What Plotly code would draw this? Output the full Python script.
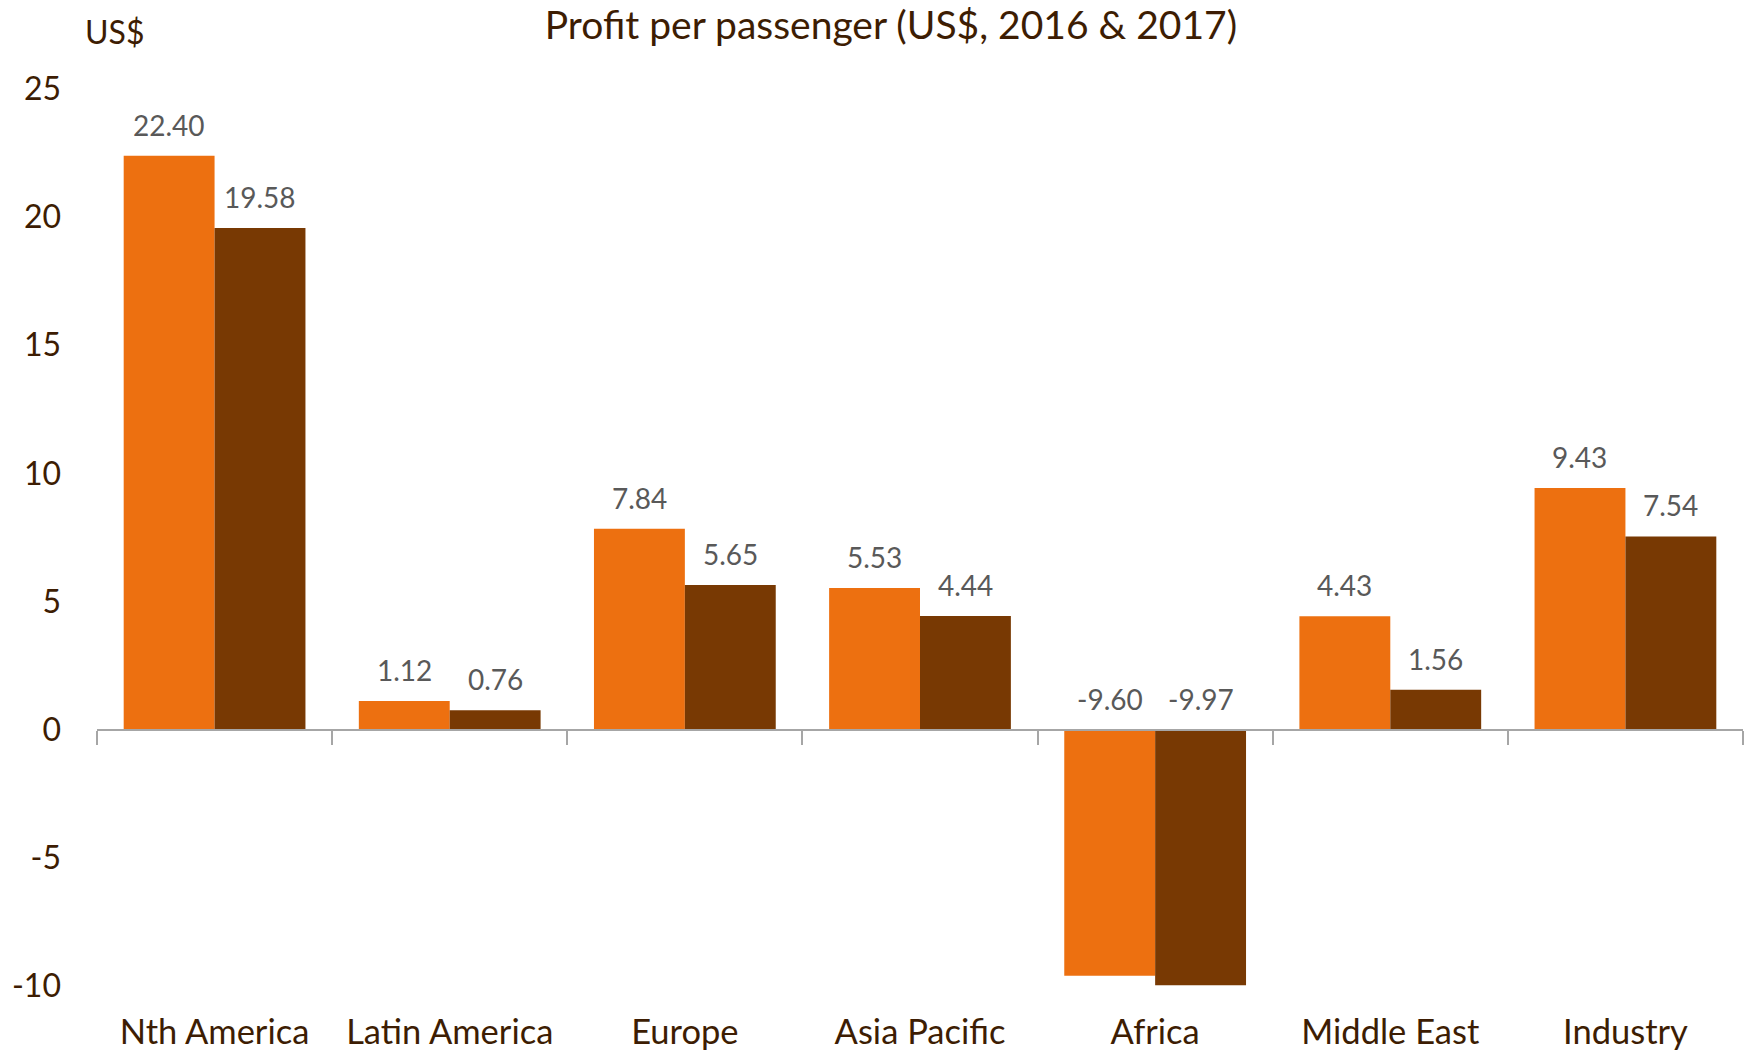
import plotly.graph_objects as go

categories = ["Nth America", "Latin America", "Europe", "Asia Pacific", "Africa", "Middle East", "Industry"]
values_2016 = [22.40, 1.12, 7.84, 5.53, -9.60, 4.43, 9.43]
values_2017 = [19.58, 0.76, 5.65, 4.44, -9.97, 1.56, 7.54]
y_ticks = [-10, -5, 0, 5, 10, 15, 20, 25]

title_text = "Profit per passenger (US$, 2016 & 2017)"
unit_text = "US$"

ORANGE = "#ED7010"
BROWN = "#783903"
TXT = "#3D1D03"
LBL = "#595959"
FONT = "Lato"

YMIN, YMAX = -10, 25
BARGAP = 0.227

fig = go.Figure()
fig.add_trace(go.Bar(x=categories, y=values_2016, name="2016", marker_color=ORANGE,
                     marker_line_width=0, hoverinfo="skip"))
fig.add_trace(go.Bar(x=categories, y=values_2017, name="2017", marker_color=BROWN,
                     marker_line_width=0, hoverinfo="skip"))
# invisible trace to carry the zero-line axis with category boundary ticks
fig.add_trace(go.Scatter(x=categories, y=[None] * len(categories), xaxis="x2", yaxis="y",
                         mode="markers", showlegend=False, hoverinfo="skip"))

half = (1 - BARGAP) / 4
for i, (a, b) in enumerate(zip(values_2016, values_2017)):
    for v, dx in ((a, -half), (b, half)):
        fig.add_annotation(x=i + dx, y=max(v, 0), xref="x", yref="y", text=f"{v:.2f}",
                           showarrow=False, yanchor="bottom", yshift=12,
                           font=dict(family=FONT, size=28, color=LBL))

fig.add_annotation(text=unit_text, xref="paper", yref="paper", x=-0.0084, y=1, xanchor="left",
                   yanchor="bottom", yshift=36, showarrow=False,
                   font=dict(family=FONT, size=32, color=TXT))

zero_pos = (0 - YMIN) / (YMAX - YMIN)

fig.update_layout(
    width=1746, height=1054,
    margin=dict(l=97, r=3, t=89, b=56),
    paper_bgcolor="white", plot_bgcolor="white",
    barmode="group", bargap=BARGAP, bargroupgap=0,
    showlegend=False,
    title=dict(text=title_text, x=0.5103, xref="container", xanchor="center",
               y=1 - 25 / 1054, yref="container", yanchor="middle",
               font=dict(family=FONT, size=39, color=TXT)),
    xaxis=dict(type="category", categoryorder="array", categoryarray=categories,
               range=[-0.5, len(categories) - 0.5], showline=False, ticks="",
               showgrid=False, zeroline=False, ticklabelstandoff=22,
               tickfont=dict(family=FONT, size=34.5, color=TXT)),
    xaxis2=dict(type="category", categoryorder="array", categoryarray=categories,
                overlaying="x", matches="x", anchor="free", position=zero_pos,
                showline=True, linecolor="#A6A6A6", linewidth=2,
                ticks="outside", tickson="boundaries", ticklen=14, tickcolor="#A6A6A6",
                tickwidth=2, showticklabels=False, showgrid=False, zeroline=False),
    yaxis=dict(range=[YMIN, YMAX], tickvals=y_ticks, ticktext=[str(v) for v in y_ticks],
               showgrid=False, zeroline=False, showline=False, ticks="", ticklabelstandoff=35,
               tickfont=dict(family=FONT, size=32, color=TXT)),
)

fig.write_html("out.html", config={"displayModeBar": False},
               post_script="document.body.style.margin='0';document.body.style.overflow='hidden';")
